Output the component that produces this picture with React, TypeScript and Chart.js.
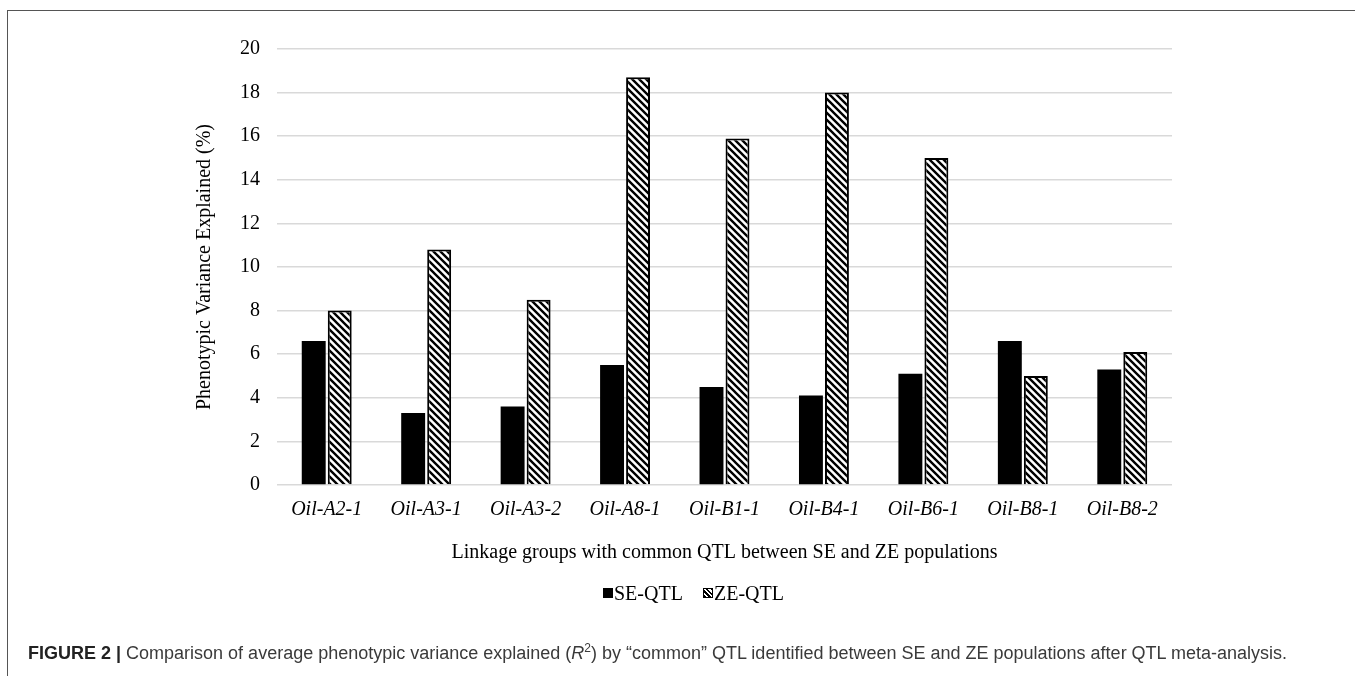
import React, { useEffect, useRef } from 'react';
import { Chart, registerables } from 'chart.js';

Chart.register(...registerables);

const categories = ['Oil-A2-1', 'Oil-A3-1', 'Oil-A3-2', 'Oil-A8-1', 'Oil-B1-1', 'Oil-B4-1', 'Oil-B6-1', 'Oil-B8-1', 'Oil-B8-2'];
const seValues = [6.6, 3.3, 3.6, 5.5, 4.5, 4.1, 5.1, 6.6, 5.3];
const zeValues = [8.0, 10.8, 8.5, 18.7, 15.9, 18.0, 15.0, 5.0, 6.1];
const seriesNames = ['SE-QTL', 'ZE-QTL'];
const yMin = 0;
const yMax = 20;
const yStep = 2;
const yTitle = 'Phenotypic Variance Explained (%)';
const xTitle = 'Linkage groups with common QTL between SE and ZE populations';

const SERIF = '"Liberation Serif", "Times New Roman", serif';

function makeHatch(): CanvasPattern | string {
  const n = 7;
  const c = document.createElement('canvas');
  c.width = n;
  c.height = n;
  const g = c.getContext('2d');
  if (!g) return '#fff';
  g.fillStyle = '#fff';
  g.fillRect(0, 0, n, n);
  g.strokeStyle = '#000';
  g.lineWidth = 2.4;
  g.beginPath();
  g.moveTo(-1, -1);
  g.lineTo(n + 1, n + 1);
  g.moveTo(-1, n - 1);
  g.lineTo(1, n + 1);
  g.moveTo(n - 1, -1);
  g.lineTo(n + 1, 1);
  g.stroke();
  return g.createPattern(c, 'repeat') || '#fff';
}

export default function App() {
  const ref = useRef<HTMLCanvasElement | null>(null);

  useEffect(() => {
    if (!ref.current) return;
    const hatch = makeHatch();
    const chart = new Chart(ref.current, {
      type: 'bar',
      data: {
        labels: categories,
        datasets: [
          {
            label: seriesNames[0],
            data: seValues,
            backgroundColor: '#000',
            borderColor: '#000',
            borderWidth: 0,
            categoryPercentage: 0.523,
            barPercentage: 0.92,
          },
          {
            label: seriesNames[1],
            data: zeValues,
            backgroundColor: hatch as any,
            borderColor: '#000',
            borderWidth: 2,
            categoryPercentage: 0.523,
            barPercentage: 0.92,
          },
        ],
      },
      options: {
        animation: false,
        responsive: false,
        maintainAspectRatio: false,
        layout: { padding: { left: 190, right: 183, top: 49, bottom: 111 } },
        plugins: {
          tooltip: { enabled: false },
          legend: { display: false },
        },
        scales: {
          x: {
            afterFit: (s: any) => {
              s.height = 80;
            },
            grid: { display: false },
            border: { display: false },
            ticks: {
              color: '#000',
              padding: 5,
              maxRotation: 0,
              font: { family: SERIF, size: 20, style: 'italic' },
            },
            title: {
              display: true,
              text: xTitle,
              color: '#000',
              font: { family: SERIF, size: 20 },
              padding: { top: 10, bottom: 0 },
            },
          },
          y: {
            min: yMin,
            max: yMax,
            afterFit: (s: any) => {
              s.width = 87;
            },
            border: { display: false },
            grid: { color: '#d9d9d9', lineWidth: 1.5, drawTicks: false },
            ticks: {
              stepSize: yStep,
              color: '#000',
              padding: 17,
              font: { family: SERIF, size: 20 },
            },
            title: {
              display: true,
              text: yTitle,
              color: '#000',
              font: { family: SERIF, size: 20 },
              padding: { top: 3, bottom: 4 },
            },
          },
        },
      },
    });
    return () => chart.destroy();
  }, []);

  const legendText: React.CSSProperties = {
    position: 'absolute',
    top: 580,
    font: '20px "Liberation Serif", "Times New Roman", serif',
    color: '#000',
    lineHeight: '26px',
    whiteSpace: 'nowrap',
  };

  return (
    <div style={{ position: 'fixed', left: 0, top: 0, width: 1355, height: 676, background: '#fff', overflow: 'hidden' }}>
      <div
        style={{
          position: 'absolute',
          left: 7,
          top: 10,
          width: 1360,
          height: 680,
          borderTop: '1.5px solid #555',
          borderLeft: '1.5px solid #555',
          boxSizing: 'border-box',
        }}
      />
      <canvas ref={ref} width={1355} height={676} style={{ position: 'absolute', left: 0, top: 0 }} />
      <div style={{ position: 'absolute', left: 603, top: 588, width: 10, height: 10, background: '#000' }} />
      <div style={{ ...legendText, left: 614 }}>{seriesNames[0]}</div>
      <div
        style={{
          position: 'absolute',
          left: 703,
          top: 588,
          width: 10,
          height: 10,
          boxSizing: 'border-box',
          border: '1.5px solid #000',
          background: 'repeating-linear-gradient(45deg, #000 0px, #000 1.6px, #fff 1.6px, #fff 3.4px)',
        }}
      />
      <div style={{ ...legendText, left: 714 }}>{seriesNames[1]}</div>
      <div
        style={{
          position: 'absolute',
          left: 28,
          top: 641,
          whiteSpace: 'nowrap',
          font: '18px "Liberation Sans", Arial, sans-serif',
          color: '#3a3a3a',
        }}
      >
        <b style={{ color: '#222' }}>FIGURE 2 |</b> Comparison of average phenotypic variance explained (<i>R</i>
        <sup style={{ fontSize: 12 }}>2</sup>) by “common” QTL identified between SE and ZE populations after QTL meta-analysis.
      </div>
    </div>
  );
}
